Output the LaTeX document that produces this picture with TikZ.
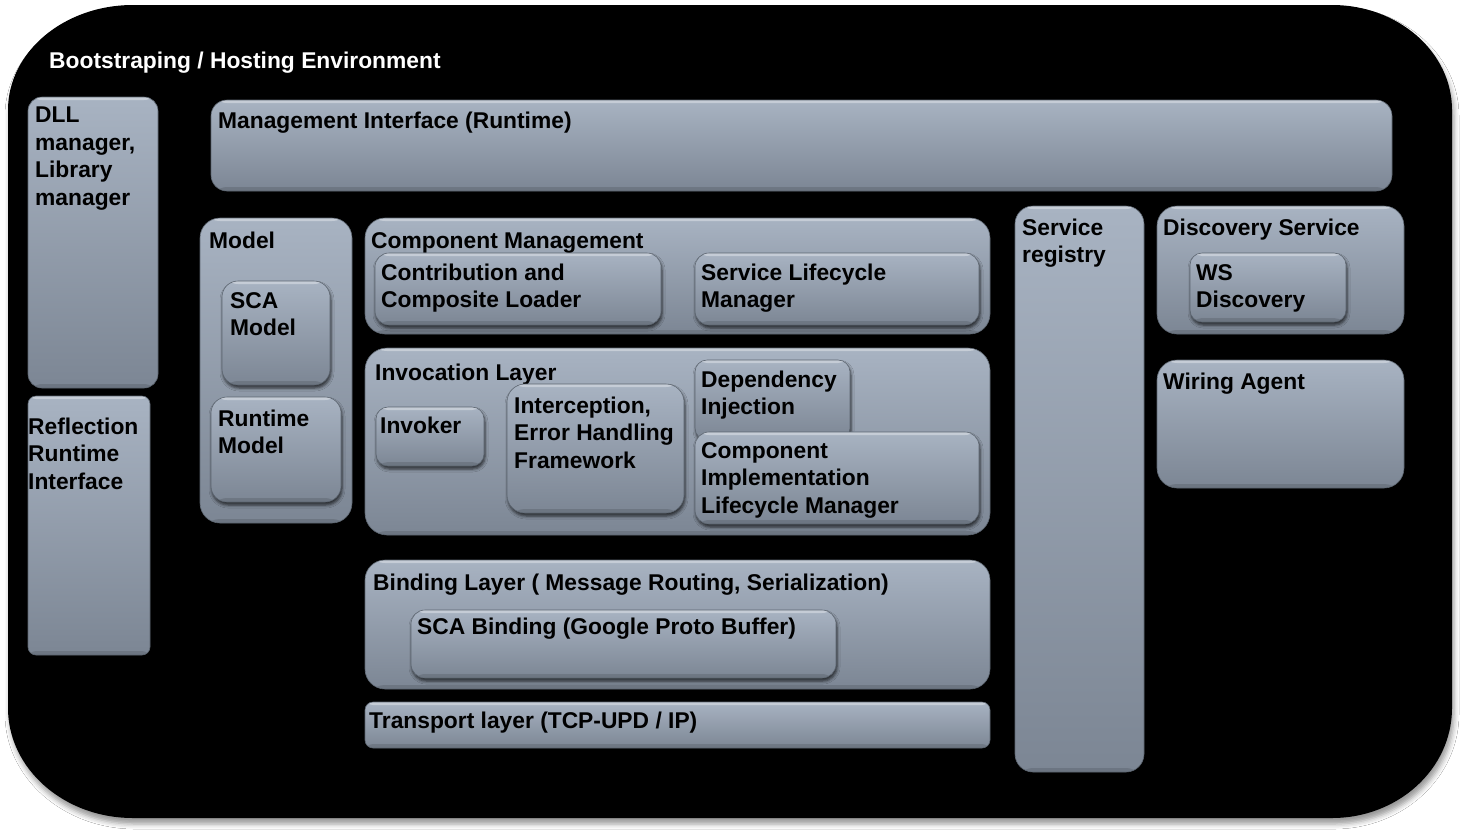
\documentclass[tikz,border=0pt]{standalone}
\usepackage{fontspec}
\setmainfont{Liberation Sans}
\usetikzlibrary{fit,shadows.blur}
\definecolor{boxtop}{HTML}{A8B3C2}
\definecolor{boxbot}{HTML}{7C8694}
\definecolor{edgec}{HTML}{5C6570}
\tikzset{
  panel/.style={rounded corners=#1, top color=boxtop, bottom color=boxbot,
    draw=edgec, line width=0.6pt, inner sep=0pt,
    blur shadow={shadow xshift=1pt, shadow yshift=-3pt, shadow blur radius=3pt, shadow opacity=70},
    path picture={\fill[white,opacity=.35] (path picture bounding box.north west) rectangle ([yshift=-3pt]path picture bounding box.north east);
                  \fill[black,opacity=.12] ([yshift=4pt]path picture bounding box.south west) rectangle (path picture bounding box.south east);}},
  panel/.default=16pt,
  lbl/.style={anchor=north west, inner sep=0pt, align=left, yshift=-1pt,
    font=\fontsize{22.8}{27.5}\selectfont\bfseries, text=black},
}
\begin{document}
\begin{tikzpicture}[x=1pt,y=-1pt]
\useasboundingbox (0,0) rectangle (1461,833);
\fill[white] (0,0) rectangle (1461,833);
% outer environment
\path[fill=black, blur shadow={shadow xshift=2pt, shadow yshift=-6pt, shadow blur radius=5pt, shadow opacity=40}]
  (133,5) -- (1332,5) arc[start angle=90, end angle=0, x radius=120pt, y radius=105pt]
  -- (1452,708) arc[start angle=0, end angle=-90, x radius=120pt, y radius=110pt]
  -- (133,818) arc[start angle=-90, end angle=-180, x radius=125pt, y radius=110pt]
  -- (8,110) arc[start angle=180, end angle=90, x radius=125pt, y radius=105pt] -- cycle;
\node[lbl, text=white] (t-boot) at (49,48.5) {\strut Bootstraping / Hosting Environment};

% left column
\node[panel=14pt, fit={(28,97) (158,388)}] (dll) {};
\node[lbl] (t-dll) at (35,102.5) {\strut DLL\\manager,\\Library\\manager};
\node[panel=8pt, fit={(28,396) (150,655)}] (refl) {};
\node[lbl] (t-refl) at (28,414) {\strut Reflection\\Runtime\\Interface};

% management interface
\node[panel=16pt, fit={(211,100) (1392,191)}] (mgmt) {};
\node[lbl] (t-mgmt) at (218,108) {\strut Management Interface (Runtime)};

% model
\node[panel=20pt, fit={(200,218) (352,523)}] (model) {};
\node[lbl] (t-model) at (209,228) {\strut Model};
\node[panel=16pt, fit={(222,281) (330,385)}] (scam) {};
\node[lbl] (t-scam) at (230,288) {\strut SCA\\Model};
\node[panel=16pt, fit={(211,397) (341,502)}] (rtm) {};
\node[lbl] (t-rtm) at (218,406) {\strut Runtime\\Model};

% component management
\node[panel=20pt, fit={(365,218) (990,334)}] (cm) {};
\node[lbl] (t-cm) at (371,228) {\strut Component Management};
\node[panel=14pt, fit={(375,253) (661,325)}] (ccl) {};
\node[lbl] (t-ccl) at (381,260) {\strut Contribution and\\Composite Loader};
\node[panel=14pt, fit={(695,253) (979,325)}] (slm) {};
\node[lbl] (t-slm) at (701,260) {\strut Service Lifecycle\\Manager};

% invocation layer
\node[panel=22pt, fit={(365,348) (990,535)}] (inv) {};
\node[lbl] (t-inv) at (375,360) {\strut Invocation Layer};
\node[panel=12pt, fit={(376,407) (484,466)}] (invoker) {};
\node[lbl] (t-invoker) at (380,413) {\strut Invoker};
\node[panel=18pt, fit={(507,384) (684,513)}] (icpt) {};
\node[lbl] (t-icpt) at (514,393) {\strut Interception,\\Error Handling\\Framework};
\node[panel=12pt, fit={(695,360) (850,440)}] (dep) {};
\node[lbl] (t-dep) at (701,367) {\strut Dependency\\Injection};
\node[panel=14pt, fit={(695,432) (979,524)}] (cilm) {};
\node[lbl] (t-cilm) at (701,438) {\strut Component\\Implementation\\Lifecycle Manager};

% binding layer
\node[panel=20pt, fit={(365,560) (990,689)}] (bind) {};
\node[lbl] (t-bind) at (373,570) {\strut Binding Layer ( Message Routing, Serialization)};
\node[panel=14pt, fit={(411,610) (836,678)}] (scab) {};
\node[lbl] (t-scab) at (417,614) {\strut SCA Binding (Google Proto Buffer)};

% transport
\node[panel=8pt, fit={(365,702) (990,748)}] (trans) {};
\node[lbl] (t-trans) at (369,708) {\strut Transport layer (TCP-UPD / IP)};

% right side
\node[panel=18pt, fit={(1015,206) (1144,772)}] (sreg) {};
\node[lbl] (t-sreg) at (1022,215) {\strut Service\\registry};
\node[panel=20pt, fit={(1157,206) (1404,334)}] (disc) {};
\node[lbl] (t-disc) at (1163,215) {\strut Discovery Service};
\node[panel=12pt, fit={(1190,253) (1346,322)}] (ws) {};
\node[lbl] (t-ws) at (1196,260) {\strut WS\\Discovery};
\node[panel=20pt, fit={(1157,360) (1404,488)}] (wire) {};
\node[lbl] (t-wire) at (1163,369) {\strut Wiring Agent};
\end{tikzpicture}
\end{document}
